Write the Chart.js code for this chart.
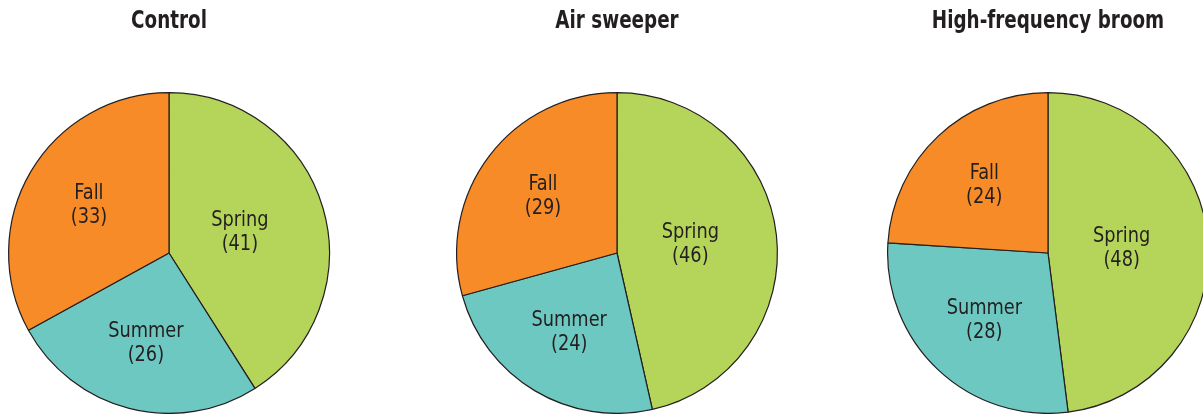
<!DOCTYPE html>
<html>
<head>
<meta charset="utf-8">
<script src="https://cdn.jsdelivr.net/npm/chart.js@4.4.0/dist/chart.umd.min.js"></script>
<style>
  html, body { margin: 0; padding: 0; background: #fff; }
  body { width: 1203px; height: 414px; position: relative; overflow: hidden; }
  .box { position: absolute; top: 0; width: 338px; height: 414px; }
</style>
</head>
<body>
<div class="box" style="left:0px"><canvas id="pie1"></canvas></div>
<div class="box" style="left:448px"><canvas id="pie2"></canvas></div>
<div class="box" style="left:879px"><canvas id="pie3"></canvas></div>
<script>
// === DADOS ===
const estacoes = ['Spring', 'Summer', 'Fall'];
const titulos = ['Control', 'Air sweeper', 'High-frequency broom'];
const controle = [41, 26, 33];
const varredorAr = [46, 24, 29];
const vassouraAlta = [48, 28, 24];

const cores = ['#b5d55a', '#6ec8c2', '#f68b28'];
const FONTE = "'Liberation Sans Narrow', 'Arial Narrow', 'DejaVu Sans Condensed', sans-serif";

// escreve texto comprimido na horizontal (fonte condensada)
function textoEstreito(ctx, texto, x, y, escala) {
  ctx.save();
  ctx.translate(x, y);
  ctx.scale(escala, 1);
  ctx.fillText(texto, 0, 0);
  ctx.restore();
}

// título + rótulos dentro das fatias: "Spring" + "(41)"
const rotulos = {
  id: 'rotulos',
  afterDatasetsDraw(chart, args, opts) {
    const ctx = chart.ctx;
    const meta = chart.getDatasetMeta(0);
    const valores = chart.data.datasets[0].data;
    ctx.save();
    ctx.fillStyle = '#231f20';
    ctx.textAlign = 'center';

    // título
    ctx.font = 'bold 24px ' + FONTE;
    ctx.textBaseline = 'alphabetic';
    textoEstreito(ctx, opts.titulo, chart.width / 2, 28, 0.85);

    ctx.font = '21px ' + FONTE;
    ctx.textBaseline = 'middle';
    meta.data.forEach((arco, i) => {
      const meio = (arco.startAngle + arco.endAngle) / 2;
      const frac = i === 0 ? 0.46 : 0.58;
      const r = arco.outerRadius * frac;
      const x = arco.x + Math.cos(meio) * r;
      const y = arco.y + Math.sin(meio) * r;
      textoEstreito(ctx, chart.data.labels[i], x, y - 12, 0.94);
      textoEstreito(ctx, '(' + valores[i] + ')', x, y + 12, 0.94);
    });
    ctx.restore();
  }
};

function criaPizza(id, titulo, dados) {
  return new Chart(document.getElementById(id), {
    type: 'pie',
    data: {
      labels: estacoes,
      datasets: [{
        data: dados,
        backgroundColor: cores,
        borderColor: '#231f20',
        borderWidth: 1.2
      }]
    },
    options: {
      responsive: true,
      maintainAspectRatio: false,
      animation: false,
      layout: { padding: { left: 8, right: 8, top: 92, bottom: 0 } },
      plugins: {
        legend: { display: false },
        tooltip: { enabled: false },
        title: { display: false },
        rotulos: { titulo: titulo }
      }
    },
    plugins: [rotulos]
  });
}

criaPizza('pie1', titulos[0], controle);
criaPizza('pie2', titulos[1], varredorAr);
criaPizza('pie3', titulos[2], vassouraAlta);
</script>
</body>
</html>
